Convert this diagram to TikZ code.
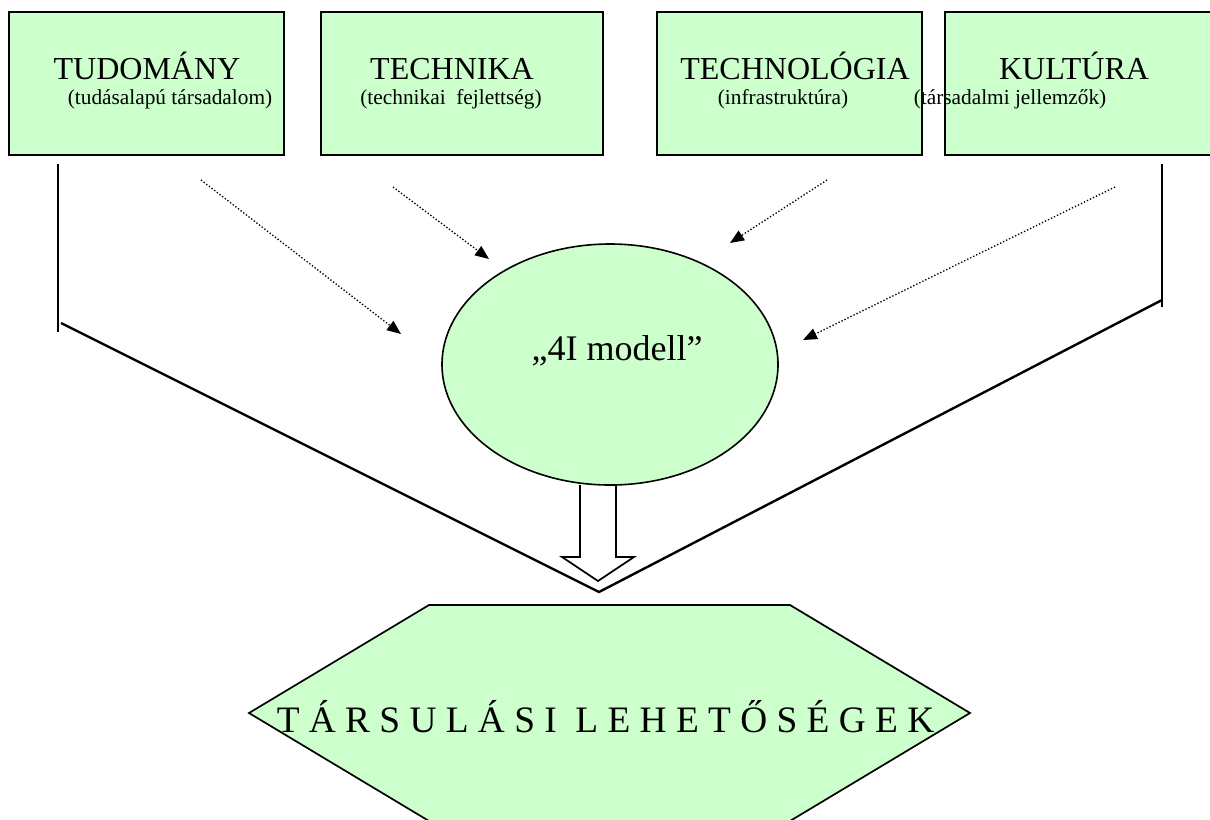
\documentclass[tikz,border=0pt]{standalone}
\usepackage{fontspec}
\setmainfont{Liberation Serif}
\usetikzlibrary{shapes.geometric,arrows.meta}
\definecolor{lightgreen}{RGB}{204,255,204}

\begin{document}
\begin{tikzpicture}[x=0.75pt,y=0.75pt,yscale=-1,xscale=1,
	boxstyle/.style={draw,line width=1.8pt,fill=lightgreen,inner sep=0pt,minimum height=107.25pt},
	title/.style={anchor=base,font=\fontsize{24}{28}\selectfont},
	sub/.style={anchor=base,font=\fontsize{16}{19}\selectfont},
	flow/.style={line width=1pt,dash pattern=on 1pt off 1.5pt,-{Triangle[length=10.5pt,width=8.5pt]}},
	frame/.style={line width=1.8pt}]
			\useasboundingbox (0,0) rectangle (1210,819);
			
			%Shape: Rectangle
			\node [boxstyle,minimum width=206.25pt] (tud) at (146.5,83.5) {};
			%Shape: Rectangle
			\node [boxstyle,minimum width=211.5pt] (tech) at (462,83.5) {};
			%Shape: Rectangle
			\node [boxstyle,minimum width=198.75pt] (techn) at (789.5,83.5) {};
			%Shape: Rectangle
			\node [boxstyle,minimum width=200.25pt] (kult) at (1078.5,83.5) {};
			
			% Text Node
			\node [title] (tudT) at (147,79) {TUDOMÁNY};
			\node [sub] (tudS) at (170,104) {(tudásalapú társadalom)};
			% Text Node
			\node [title] (techT) at (452,79) {TECHNIKA};
			\node [sub] (techS) at (451,104) {(technikai\ \ fejlettség)};
			% Text Node
			\node [title] (technT) at (795,79) {TECHNOLÓGIA};
			\node [sub] (technS) at (783,104) {(infrastruktúra)};
			% Text Node
			\node [title] (kultT) at (1074,79) {KULTÚRA};
			\node [sub] (kultS) at (1010,104) {(társadalmi jellemzők)};
			
			%Shape: Ellipse
			\node [ellipse,draw,fill=lightgreen,line width=1.2pt,inner sep=0pt,minimum width=252pt,minimum height=180.75pt] (model) at (610,364.5) {};
			% Text Node
			\node [anchor=base,font=\fontsize{27}{32}\selectfont] (modelT) at (617,360) {„4I modell”};
			
			%Straight Lines
			\coordinate (a1) at (201,180);
			\coordinate (a1e) at (401,334);
			\coordinate (a2) at (393,187);
			\coordinate (a2e) at (489,259);
			\coordinate (a3) at (827,180);
			\coordinate (a3e) at (730,243);
			\coordinate (a4) at (1115,187);
			\coordinate (a4e) at (803,340);
			\draw [flow] (a1) -- (a1e);
			\draw [flow] (a2) -- (a2e);
			\draw [flow] (a3) -- (a3e);
			\draw [flow] (a4) -- (a4e);
			
			%Straight Lines
			\coordinate (lt) at (58,164);
			\coordinate (lb) at (58,332);
			\coordinate (ld) at (61,323);
			\coordinate (apex) at (599,592);
			\coordinate (rd) at (1162,300);
			\coordinate (rt) at (1162,164);
			\coordinate (rb) at (1162,307);
			\draw [frame] (lt) -- (lb);
			\draw [frame] (rt) -- (rb);
			\draw [frame] (ld) -- (apex) -- (rd);
			
			%Shape: Down Arrow
			\draw [line width=1.3pt] (580,485) -- (580,557) -- (562,557) -- (598,581) -- (634,557) -- (616,557) -- (616,485);
			
			%Shape: Hexagon
			\draw [line width=1.3pt,fill=lightgreen] (429,605) -- (790,605) -- (970,713) -- (790,821) -- (429,821) -- (249,713) -- cycle;
			% Text Node
			\node [anchor=base,font=\fontsize{28}{34}\selectfont] (tars) at (605.5,732) {T Á R S U L Á S I\ \ L E H E T Ő S É G E K};
\end{tikzpicture}
\end{document}
